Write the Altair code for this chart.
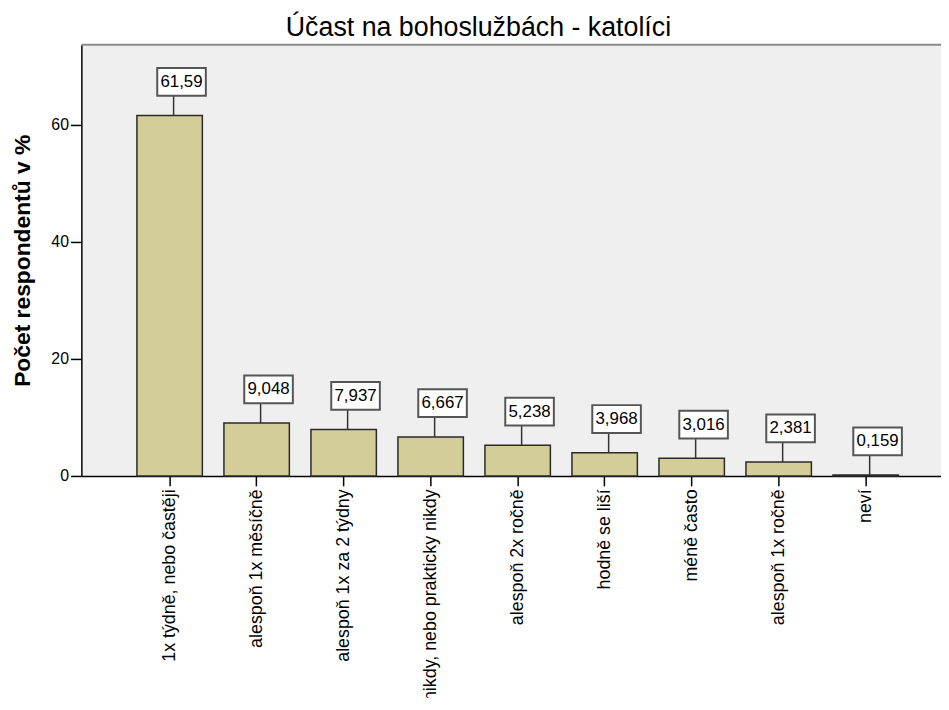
import altair as alt
import pandas as pd

title_text = "Účast na bohoslužbách - katolíci"
categories = [
    "1x týdně, nebo častěji",
    "alespoň 1x měsíčně",
    "alespoň 1x za 2 týdny",
    "nikdy, nebo prakticky nikdy",
    "alespoň 2x ročně",
    "hodně se liší",
    "méně často",
    "alespoň 1x ročně",
    "neví",
]
values = [61.59, 9.048, 7.937, 6.667, 5.238, 3.968, 3.016, 2.381, 0.159]
value_labels = ["61,59", "9,048", "7,937", "6,667", "5,238", "3,968", "3,016", "2,381", "0,159"]
y_ticks = [0, 20, 40, 60]

df = pd.DataFrame({"cat": categories, "value": values, "label": value_labels})

FONT = "Liberation Sans"
W, H = 867, 435

x_enc = alt.X(
    "cat:N",
    sort=categories,
    scale=alt.Scale(paddingInner=0.248, paddingOuter=0.564, align=0.566),
    axis=alt.Axis(
        title=None,
        labelAngle=270,
        labelAlign="right",
        labelBaseline="middle",
        labelFontSize=18,
        labelFont=FONT,
        labelColor="#000000",
        labelLimit=400,
        labelPadding=3,
        tickSize=10,
        tickColor="#000000",
        tickWidth=1.5,
        domainColor="#000000",
        domainWidth=1.5,
        grid=False,
    ),
)
y_enc = alt.Y(
    "value:Q",
    scale=alt.Scale(domain=[0, 73.7], nice=False, zero=True),
    axis=alt.Axis(
        values=y_ticks,
        title="Počet respondentů v %",
        titleFont=FONT,
        titleFontSize=23,
        titleFontWeight="bold",
        titleColor="#000000",
        titleAngle=270,
        titleAlign="center",
        titleBaseline="middle",
        titleX=-59,
        titleY=H / 2,
        grid=False,
        tickSize=11,
        tickColor="#000000",
        tickWidth=1.5,
        domainColor="#000000",
        domainWidth=1.5,
        labelPadding=2,
        labelFontSize=16,
        labelFont=FONT,
        labelColor="#000000",
    ),
)

base = alt.Chart(df)

bars = base.mark_bar(fill="#D3CE97", stroke="#2a2a2a", strokeWidth=1.5).encode(
    x=x_enc, y=y_enc
)

leaders = base.mark_rule(color="#333333", strokeWidth=1.5, xOffset=4, y2Offset=-20).encode(
    x=alt.X("cat:N", sort=categories),
    y=alt.Y("value:Q"),
    y2=alt.Y2("value"),
)

boxes = base.mark_bar(
    fill="white", stroke="#555555", strokeWidth=2, width=49,
    xOffset=12, yOffset=-20, y2Offset=-48,
).encode(
    x=alt.X("cat:N", sort=categories),
    y=alt.Y("value:Q"),
    y2=alt.Y2("value"),
)

texts = base.mark_text(
    font=FONT, fontSize=17, color="#000000", xOffset=12, yOffset=-34,
    align="center", baseline="middle",
).encode(
    x=alt.X("cat:N", sort=categories),
    y=alt.Y("value:Q"),
    text="label:N",
)

top_border = alt.Chart(pd.DataFrame({"a": [0]})).mark_rule(
    color="#8a8a8a", strokeWidth=2
).encode(x=alt.value(0), x2=alt.value(W), y=alt.value(0))

title_mark = alt.Chart(pd.DataFrame({"t": [title_text]})).mark_text(
    font=FONT, fontSize=27, color="#000000", align="center", baseline="alphabetic"
).encode(x=alt.value(400.5), y=alt.value(-9), text="t:N")

chart = (
    alt.layer(bars, leaders, boxes, texts, top_border, title_mark)
    .properties(
        width=W,
        height=H,
        autosize=alt.AutoSizeParams(type="none"),
        padding={"left": 74, "top": 34, "right": 0, "bottom": 221},
        background="white",
    )
    .configure_view(fill="#EFEFEF", stroke=None)
)

chart.save("out.html", embed_options={"renderer": "svg", "actions": False})
